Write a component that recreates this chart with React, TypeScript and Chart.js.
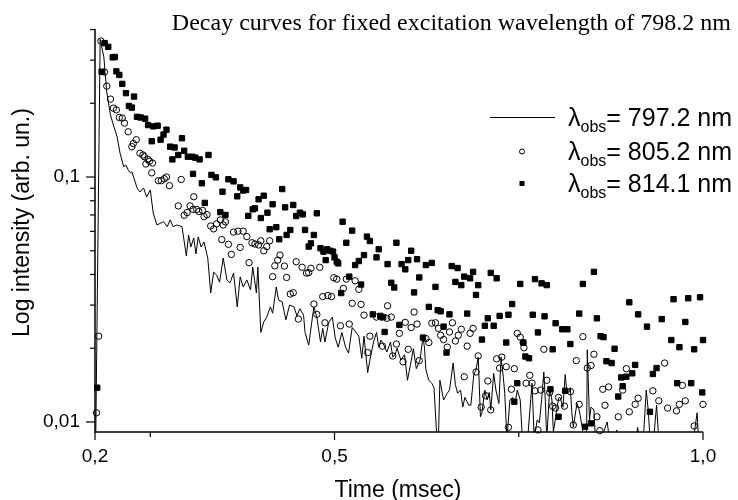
import React, { useEffect, useRef } from "react";
import { Chart, registerables } from "chart.js";

Chart.register(...registerables);

const TITLE = "Decay curves for fixed excitation wavelength of 798.2 nm";
const X_TITLE = "Time (msec)";
const Y_TITLE = "Log intensity (arb. un.)";
const SERIES_WAVELENGTHS = ["797.2 nm", "805.2 nm", "814.1 nm"];

const X_MIN = 0.175;
const X_MAX = 1.0;
const Y_MIN = 0.0091;
const Y_MAX = 0.402;
const X_MAJOR_TICKS = [0.175, 0.5, 1.0];
const X_TICK_LABELS = ["0,2", "0,5", "1,0"];
const X_MINOR_TICKS = [0.25, 0.75];
const Y_MAJOR_TICKS = [0.01, 0.1];
const Y_TICK_LABELS = ["0,01", "0,1"];
const Y_MINOR_TICKS = [0.02, 0.03, 0.04, 0.05, 0.06, 0.07, 0.08, 0.09, 0.2, 0.3, 0.4];

// λobs = 797.2 nm (solid line)
const LINE_TIME = [
  0.176, 0.182, 0.187, 0.191, 0.196, 0.2, 0.205, 0.209, 0.214, 0.217,
  0.22, 0.223, 0.225, 0.23, 0.232, 0.236, 0.241, 0.245, 0.25, 0.254,
  0.259, 0.268, 0.273, 0.277, 0.281, 0.286, 0.293, 0.299, 0.302, 0.305,
  0.309, 0.312, 0.315, 0.319, 0.323, 0.328, 0.332, 0.336, 0.34, 0.344,
  0.349, 0.354, 0.358, 0.363, 0.368, 0.372, 0.376, 0.381, 0.386, 0.389,
  0.394, 0.396, 0.4, 0.404, 0.408, 0.413, 0.416, 0.421, 0.424, 0.429,
  0.434, 0.439, 0.445, 0.449, 0.453, 0.458, 0.46, 0.465, 0.469, 0.472,
  0.476, 0.481, 0.484, 0.487, 0.492, 0.497, 0.501, 0.505, 0.51, 0.515,
  0.519, 0.524, 0.528, 0.533, 0.537, 0.54, 0.545, 0.548, 0.553, 0.557,
  0.56, 0.563, 0.567, 0.571, 0.576, 0.579, 0.582, 0.585, 0.59, 0.595,
  0.599, 0.603, 0.607, 0.611, 0.616, 0.62, 0.622, 0.624, 0.628, 0.632,
  0.635, 0.639, 0.641, 0.643, 0.648, 0.653, 0.656, 0.661, 0.664, 0.667,
  0.671, 0.674, 0.677, 0.682, 0.685, 0.689, 0.692, 0.695, 0.698, 0.7,
  0.704, 0.707, 0.71, 0.712, 0.716, 0.719, 0.723, 0.726, 0.729, 0.731,
  0.734, 0.738, 0.742, 0.745, 0.748, 0.752, 0.755, 0.762, 0.768, 0.771,
  0.775, 0.778, 0.781, 0.784, 0.786, 0.788, 0.792, 0.795, 0.797, 0.801,
  0.804, 0.806, 0.81, 0.813, 0.815, 0.818, 0.82, 0.822, 0.824, 0.829,
  0.832, 0.836, 0.838, 0.842, 0.843, 0.846, 0.848, 0.852, 0.854, 0.861,
  0.865, 0.87, 0.873, 0.879, 0.883, 0.885, 0.91, 0.911, 0.915, 0.919,
  0.923, 0.926, 0.928, 0.933, 0.937, 0.94, 0.987, 0.992, 0.994, 1.0,
];
const LINE_INT = [
  0.0085, 0.365, 0.309, 0.222, 0.179, 0.163, 0.146, 0.125, 0.11, 0.112,
  0.107, 0.104, 0.105, 0.0945, 0.0902, 0.0869, 0.0902, 0.0829, 0.0885, 0.0713,
  0.0637, 0.0657, 0.0627, 0.0668, 0.0627, 0.0637, 0.0627, 0.0476, 0.058, 0.0518,
  0.0564, 0.0485, 0.057, 0.0518, 0.0543, 0.0467, 0.0336, 0.0409, 0.0398, 0.0372,
  0.0467, 0.038, 0.0369, 0.0405, 0.0295, 0.0391, 0.0356, 0.038, 0.0346, 0.0429,
  0.0336, 0.0429, 0.0232, 0.0256, 0.0268, 0.0295, 0.0278, 0.0356, 0.0315, 0.0309,
  0.0261, 0.03, 0.0295, 0.0271, 0.029, 0.0273, 0.0232, 0.0206, 0.0254, 0.0295,
  0.0268, 0.0212, 0.0241, 0.0212, 0.0254, 0.0268, 0.022, 0.0202, 0.0232, 0.0202,
  0.0191, 0.0243, 0.0235, 0.0224, 0.0182, 0.0224, 0.0159, 0.0179, 0.0212, 0.0232,
  0.0202, 0.0216, 0.0206, 0.0193, 0.0212, 0.0184, 0.0188, 0.02, 0.0179, 0.0188,
  0.0148, 0.0171, 0.0199, 0.0165, 0.0179, 0.0222, 0.0202, 0.0163, 0.0148, 0.0144,
  0.0138, 0.0085, 0.0085, 0.0148, 0.0123, 0.0131, 0.0135, 0.0174, 0.0142, 0.0131,
  0.0135, 0.0115, 0.0126, 0.0117, 0.0117, 0.0156, 0.0163, 0.0184, 0.0105, 0.0109,
  0.0135, 0.0123, 0.0132, 0.0112, 0.0158, 0.0135, 0.0119, 0.0184, 0.0153, 0.0131,
  0.0085, 0.0123, 0.0126, 0.0119, 0.0135, 0.0123, 0.0085, 0.0085, 0.0144, 0.0085,
  0.0102, 0.00991, 0.0123, 0.016, 0.0123, 0.0085, 0.0138, 0.0123, 0.0091, 0.0109,
  0.0125, 0.0126, 0.0115, 0.0156, 0.0135, 0.0132, 0.0138, 0.0109, 0.00954, 0.0119,
  0.0112, 0.00954, 0.0085, 0.0085, 0.0197, 0.0102, 0.0115, 0.0112, 0.0085, 0.0085,
  0.0091, 0.01, 0.0085, 0.0085, 0.00928, 0.0085, 0.0085, 0.0095, 0.0085, 0.0085,
  0.0135, 0.0109, 0.0085, 0.0085, 0.0117, 0.0085, 0.0085, 0.0109, 0.0085, 0.0085,
];

// λobs = 805.2 nm (open circles)
const CIRCLE_TIME = [
  0.177, 0.18, 0.183, 0.188, 0.191, 0.196, 0.2, 0.204, 0.208, 0.212,
  0.215, 0.22, 0.225, 0.227, 0.231, 0.236, 0.24, 0.242, 0.244, 0.247,
  0.249, 0.253, 0.252, 0.261, 0.265, 0.269, 0.272, 0.276, 0.288, 0.292,
  0.296, 0.3, 0.304, 0.309, 0.308, 0.313, 0.316, 0.321, 0.323, 0.327,
  0.332, 0.336, 0.34, 0.345, 0.349, 0.347, 0.352, 0.356, 0.36, 0.363,
  0.369, 0.372, 0.376, 0.381, 0.384, 0.388, 0.392, 0.397, 0.4, 0.404,
  0.408, 0.412, 0.416, 0.419, 0.423, 0.426, 0.432, 0.435, 0.44, 0.444,
  0.448, 0.451, 0.456, 0.462, 0.465, 0.468, 0.472, 0.476, 0.48, 0.484,
  0.487, 0.491, 0.496, 0.499, 0.503, 0.508, 0.512, 0.516, 0.52, 0.524,
  0.528, 0.533, 0.536, 0.54, 0.545, 0.548, 0.557, 0.564, 0.565, 0.571,
  0.572, 0.577, 0.579, 0.584, 0.588, 0.593, 0.596, 0.6, 0.604, 0.608,
  0.612, 0.615, 0.624, 0.628, 0.632, 0.637, 0.641, 0.644, 0.648, 0.653,
  0.656, 0.66, 0.664, 0.668, 0.672, 0.676, 0.68, 0.684, 0.688, 0.692,
  0.695, 0.699, 0.705, 0.708, 0.712, 0.72, 0.724, 0.727, 0.733, 0.736,
  0.74, 0.744, 0.748, 0.752, 0.756, 0.757, 0.76, 0.765, 0.768, 0.772,
  0.776, 0.78, 0.784, 0.788, 0.792, 0.796, 0.8, 0.804, 0.812, 0.82,
  0.824, 0.828, 0.832, 0.837, 0.843, 0.848, 0.852, 0.856, 0.86, 0.864,
  0.867, 0.872, 0.885, 0.891, 0.896, 0.9, 0.908, 0.912, 0.932, 0.94,
  0.948, 0.952, 0.964, 0.968, 0.972, 0.976, 0.988, 1.0,
];
const CIRCLE_INT = [
  0.0109, 0.0224, 0.359, 0.268, 0.235, 0.208, 0.191, 0.188, 0.175, 0.174,
  0.166, 0.153, 0.133, 0.137, 0.142, 0.125, 0.123, 0.121, 0.113, 0.118,
  0.116, 0.114, 0.104, 0.0966, 0.0966, 0.0984, 0.1, 0.0922, 0.0762, 0.0977,
  0.0698, 0.0716, 0.0762, 0.0831, 0.0738, 0.0737, 0.0723, 0.073, 0.0689, 0.0702,
  0.0631, 0.0614, 0.0644, 0.0668, 0.0637, 0.0555, 0.0656, 0.0531, 0.0483, 0.0596,
  0.0601, 0.0516, 0.0601, 0.0571, 0.0447, 0.0539, 0.0533, 0.0528, 0.0549, 0.05,
  0.052, 0.0549, 0.0392, 0.0434, 0.0458, 0.048, 0.0433, 0.0389, 0.0333, 0.0337,
  0.0451, 0.0263, 0.0428, 0.0405, 0.0407, 0.0424, 0.0303, 0.0275, 0.0428, 0.0325,
  0.0254, 0.0328, 0.0325, 0.0388, 0.0383, 0.0247, 0.0351, 0.0383, 0.0251, 0.0305,
  0.0377, 0.0348, 0.0302, 0.0273, 0.0192, 0.0224, 0.0268, 0.0268, 0.0204, 0.0265,
  0.0298, 0.0268, 0.0186, 0.0208, 0.023, 0.0176, 0.0255, 0.0198, 0.0243, 0.0281,
  0.0251, 0.0178, 0.0219, 0.0211, 0.0253, 0.0254, 0.0241, 0.0226, 0.0217, 0.0202,
  0.0233, 0.0254, 0.0214, 0.0226, 0.0239, 0.0153, 0.0204, 0.023, 0.0241, 0.016,
  0.0186, 0.0115, 0.0128, 0.0147, 0.0112, 0.0181, 0.0166, 0.0184, 0.0168, 0.00951,
  0.0136, 0.0165, 0.023, 0.0222, 0.0211, 0.0201, 0.0144, 0.0155, 0.0144, 0.0134,
  0.00928, 0.0135, 0.0198, 0.0148, 0.0132, 0.0116, 0.0114, 0.0126, 0.0116, 0.0133,
  0.00972, 0.0178, 0.0118, 0.0223, 0.0166, 0.017, 0.0189, 0.0105, 0.00922, 0.0136,
  0.0117, 0.0139, 0.0105, 0.0135, 0.0165, 0.011, 0.0118, 0.0125, 0.0134, 0.0122,
  0.0174, 0.0114, 0.0111, 0.0118, 0.0141, 0.0122, 0.00963, 0.0118,
];

// λobs = 814.1 nm (filled squares)
const SQUARE_TIME = [
  0.178, 0.184, 0.188, 0.193, 0.199, 0.202, 0.204, 0.208, 0.212, 0.217,
  0.221, 0.225, 0.228, 0.232, 0.237, 0.243, 0.247, 0.252, 0.254, 0.26,
  0.264, 0.268, 0.272, 0.277, 0.28, 0.283, 0.288, 0.293, 0.296, 0.301,
  0.307, 0.308, 0.311, 0.317, 0.32, 0.324, 0.329, 0.333, 0.339, 0.345,
  0.348, 0.352, 0.356, 0.363, 0.368, 0.372, 0.376, 0.38, 0.383, 0.389,
  0.392, 0.397, 0.4, 0.404, 0.409, 0.412, 0.416, 0.421, 0.425, 0.429,
  0.433, 0.435, 0.44, 0.444, 0.448, 0.453, 0.457, 0.46, 0.465, 0.468,
  0.472, 0.476, 0.481, 0.485, 0.488, 0.49, 0.494, 0.498, 0.5, 0.503,
  0.505, 0.509, 0.511, 0.516, 0.52, 0.524, 0.528, 0.533, 0.536, 0.54,
  0.544, 0.548, 0.552, 0.557, 0.56, 0.562, 0.566, 0.568, 0.572, 0.577,
  0.581, 0.584, 0.588, 0.591, 0.596, 0.6, 0.604, 0.608, 0.612, 0.615,
  0.62, 0.624, 0.628, 0.632, 0.637, 0.64, 0.644, 0.648, 0.652, 0.656,
  0.659, 0.664, 0.667, 0.672, 0.676, 0.68, 0.684, 0.688, 0.692, 0.695,
  0.7, 0.704, 0.708, 0.712, 0.716, 0.72, 0.724, 0.733, 0.736, 0.741,
  0.744, 0.748, 0.752, 0.756, 0.759, 0.764, 0.769, 0.772, 0.776, 0.781,
  0.785, 0.788, 0.793, 0.796, 0.8, 0.804, 0.809, 0.813, 0.816, 0.82,
  0.832, 0.837, 0.84, 0.848, 0.852, 0.856, 0.861, 0.865, 0.869, 0.876,
  0.88, 0.885, 0.889, 0.891, 0.896, 0.9, 0.904, 0.908, 0.912, 0.924,
  0.928, 0.932, 0.937, 0.944, 0.957, 0.96, 0.965, 0.968, 0.976, 0.98,
  0.984, 0.988, 0.996, 0.999, 1.0,
];
const SQUARE_INT = [
  0.0138, 0.269, 0.352, 0.34, 0.308, 0.309, 0.27, 0.261, 0.24, 0.22,
  0.195, 0.192, 0.213, 0.176, 0.175, 0.173, 0.163, 0.14, 0.161, 0.162,
  0.142, 0.149, 0.156, 0.133, 0.118, 0.132, 0.123, 0.144, 0.128, 0.121,
  0.121, 0.103, 0.12, 0.118, 0.0943, 0.0784, 0.123, 0.102, 0.0997, 0.0719,
  0.0871, 0.07, 0.0979, 0.096, 0.0834, 0.0907, 0.0881, 0.0885, 0.0694, 0.0738,
  0.0745, 0.0811, 0.068, 0.0839, 0.0715, 0.0612, 0.0774, 0.0624, 0.0557, 0.0893,
  0.0752, 0.058, 0.0608, 0.0769, 0.0693, 0.0715, 0.0704, 0.0608, 0.052, 0.0536,
  0.058, 0.0711, 0.0512, 0.0496, 0.0458, 0.0507, 0.05, 0.0496, 0.047, 0.0451,
  0.0444, 0.0336, 0.0657, 0.0539, 0.0392, 0.0604, 0.0437, 0.0454, 0.0364, 0.048,
  0.0571, 0.0548, 0.0275, 0.047, 0.0507, 0.0271, 0.0268, 0.0233, 0.0441, 0.037,
  0.0354, 0.0539, 0.0249, 0.0441, 0.042, 0.0458, 0.05, 0.0338, 0.0462, 0.0389,
  0.0221, 0.0437, 0.0295, 0.0446, 0.0356, 0.0286, 0.0283, 0.0245, 0.0192, 0.0275,
  0.0433, 0.0373, 0.0425, 0.0362, 0.0392, 0.0277, 0.0386, 0.041, 0.033, 0.0362,
  0.0217, 0.0247, 0.0265, 0.0406, 0.0247, 0.0386, 0.0271, 0.0211, 0.0274, 0.0303,
  0.0121, 0.0144, 0.0366, 0.0211, 0.0185, 0.0182, 0.0274, 0.0383, 0.0232, 0.0368,
  0.027, 0.0362, 0.0136, 0.0198, 0.0253, 0.0105, 0.0239, 0.0134, 0.0239, 0.0208,
  0.0277, 0.0366, 0.00956, 0.00987, 0.041, 0.0265, 0.0224, 0.0222, 0.0177, 0.0174,
  0.0199, 0.0127, 0.0152, 0.014, 0.0153, 0.0308, 0.0158, 0.0171, 0.0275, 0.0245,
  0.011, 0.0157, 0.0166, 0.0263, 0.0216, 0.0317, 0.0144, 0.0202, 0.0256, 0.032,
  0.0144, 0.0198, 0.0323, 0.0132, 0.0216,
];

const FONT_SANS = "'Liberation Sans', Arial, Helvetica, sans-serif";
const FONT_SERIF = "'Liberation Serif', 'Times New Roman', serif";

const zip = (xs: number[], ys: number[]) => xs.map((x, i) => ({ x, y: ys[i] }));

const decorPlugin = {
  id: "decor",
  afterDraw(chart: any) {
    const { ctx, chartArea, scales } = chart;
    const xs = scales.x;
    const ys = scales.y;
    const { left, right, top, bottom } = chartArea;
    ctx.save();
    ctx.strokeStyle = "#000";
    ctx.fillStyle = "#000";

    // axes
    ctx.lineWidth = 1.5;
    ctx.beginPath();
    ctx.moveTo(left, top);
    ctx.lineTo(left, bottom);
    ctx.lineTo(right, bottom);
    ctx.stroke();

    // ticks
    ctx.lineWidth = 1.2;
    const tickY = (v: number, len: number) => {
      const p = ys.getPixelForValue(v);
      ctx.beginPath();
      ctx.moveTo(left - len, p);
      ctx.lineTo(left, p);
      ctx.stroke();
    };
    const tickX = (v: number, len: number) => {
      const p = xs.getPixelForValue(v);
      ctx.beginPath();
      ctx.moveTo(p, bottom);
      ctx.lineTo(p, bottom + len);
      ctx.stroke();
    };
    Y_MAJOR_TICKS.forEach((v) => tickY(v, 9));
    Y_MINOR_TICKS.forEach((v) => tickY(v, 5));
    X_MAJOR_TICKS.forEach((v) => tickX(v, 8));
    X_MINOR_TICKS.forEach((v) => tickX(v, 5));

    // chart title
    ctx.font = `24px ${FONT_SERIF}`;
    ctx.textAlign = "right";
    ctx.textBaseline = "alphabetic";
    ctx.fillText(TITLE, chart.width - 7, 30);

    // axis titles
    ctx.font = `23px ${FONT_SANS}`;
    ctx.textAlign = "center";
    ctx.fillText(X_TITLE, (left + right) / 2 - 1, 497);
    ctx.save();
    ctx.translate(29, 222.5);
    ctx.rotate(-Math.PI / 2);
    ctx.fillText(Y_TITLE, 0, 0);
    ctx.restore();

    // legend
    const rows = [126, 160, 192];
    const markX = 522;
    const textX = 568;
    ctx.textAlign = "left";
    rows.forEach((base, i) => {
      const cy = base - 8.5;
      ctx.lineWidth = 1;
      if (i === 0) {
        ctx.beginPath();
        ctx.moveTo(490, cy);
        ctx.lineTo(555, cy);
        ctx.stroke();
      } else if (i === 1) {
        ctx.beginPath();
        ctx.arc(markX, cy, 2.5, 0, Math.PI * 2);
        ctx.stroke();
      } else {
        ctx.fillRect(markX - 2.5, cy - 2.5, 5, 5);
      }
      let x = textX;
      ctx.font = `25px ${FONT_SANS}`;
      ctx.fillText("λ", x, base);
      x += ctx.measureText("λ").width;
      ctx.font = `16px ${FONT_SANS}`;
      ctx.fillText("obs", x, base + 6);
      x += ctx.measureText("obs").width;
      ctx.font = `25px ${FONT_SANS}`;
      ctx.fillText("= " + SERIES_WAVELENGTHS[i], x, base);
    });
    ctx.restore();
  },
};

export default function App() {
  const canvasRef = useRef<HTMLCanvasElement | null>(null);

  useEffect(() => {
    if (!canvasRef.current) return;
    const chart = new Chart(canvasRef.current, {
      type: "scatter",
      data: {
        datasets: [
          {
            label: "λobs= " + SERIES_WAVELENGTHS[0],
            data: zip(LINE_TIME, LINE_INT),
            showLine: true,
            borderColor: "#000",
            borderWidth: 1,
            pointRadius: 0,
            tension: 0,
          },
          {
            label: "λobs= " + SERIES_WAVELENGTHS[1],
            data: zip(CIRCLE_TIME, CIRCLE_INT),
            pointStyle: "circle",
            pointRadius: 3.2,
            borderWidth: 1,
            borderColor: "#000",
            backgroundColor: "rgba(255,255,255,0)",
            clip: false,
          },
          {
            label: "λobs= " + SERIES_WAVELENGTHS[2],
            data: zip(SQUARE_TIME, SQUARE_INT),
            pointStyle: "rect",
            pointRadius: 3.8,
            borderWidth: 1,
            borderColor: "#000",
            backgroundColor: "#000",
            clip: false,
          },
        ],
      } as any,
      options: {
        responsive: false,
        animation: false,
        devicePixelRatio: 1,
        events: [],
        layout: { padding: { top: 29, right: 35, bottom: 0, left: 0 } },
        plugins: {
          legend: { display: false },
          tooltip: { enabled: false },
          title: { display: false },
        },
        scales: {
          x: {
            type: "linear",
            min: X_MIN,
            max: X_MAX,
            grid: { display: false, drawTicks: false },
            border: { display: false },
            afterBuildTicks: (scale: any) => {
              scale.ticks = X_MAJOR_TICKS.map((v) => ({ value: v }));
            },
            afterFit: (scale: any) => {
              scale.height = 68;
            },
            ticks: {
              autoSkip: false,
              maxRotation: 0,
              padding: 13,
              color: "#000",
              font: { family: FONT_SANS, size: 19 },
              callback: (value: any) => {
                const i = X_MAJOR_TICKS.findIndex((v) => Math.abs(v - Number(value)) < 1e-9);
                return i >= 0 ? X_TICK_LABELS[i] : "";
              },
            },
          },
          y: {
            type: "logarithmic",
            min: Y_MIN,
            max: Y_MAX,
            grid: { display: false, drawTicks: false },
            border: { display: false },
            afterBuildTicks: (scale: any) => {
              scale.ticks = Y_MAJOR_TICKS.map((v) => ({ value: v }));
            },
            afterFit: (scale: any) => {
              scale.width = 95;
            },
            ticks: {
              autoSkip: false,
              padding: 15,
              color: "#000",
              font: { family: FONT_SANS, size: 19 },
              callback: (value: any) => {
                const i = Y_MAJOR_TICKS.findIndex((v) => Math.abs(v - Number(value)) < 1e-12);
                return i >= 0 ? Y_TICK_LABELS[i] : "";
              },
            },
          },
        },
      } as any,
      plugins: [decorPlugin],
    });
    return () => chart.destroy();
  }, []);

  return (
    <div style={{ position: "absolute", left: 0, top: 0, width: 738, height: 500, background: "#fff" }}>
      <canvas ref={canvasRef} width={738} height={500} style={{ display: "block", width: 738, height: 500 }} />
    </div>
  );
}
